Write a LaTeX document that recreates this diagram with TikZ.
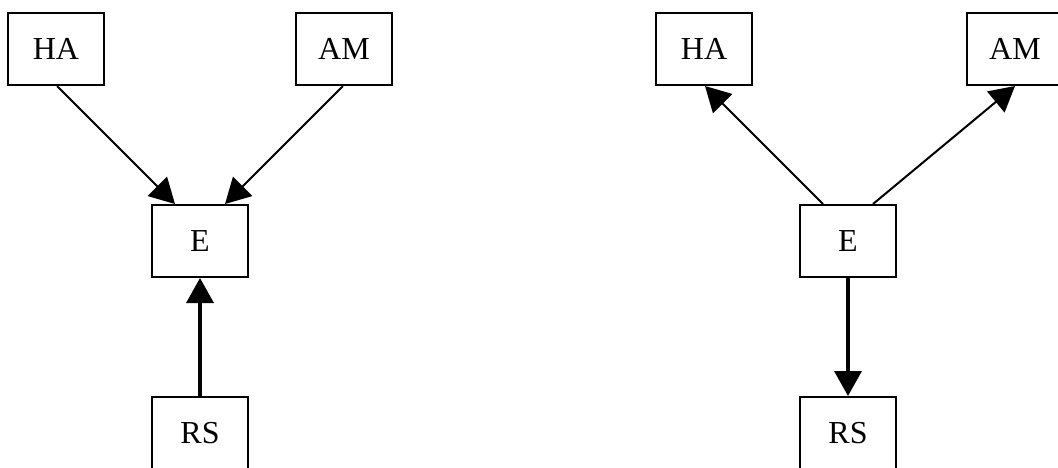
\documentclass[tikz,border=0pt]{standalone}
\usepackage{fontspec}
\setmainfont{Liberation Serif}
\usetikzlibrary{arrows.meta}
\begin{document}
\begin{tikzpicture}[x=1pt,y=-1pt,
  box/.style={draw,line width=2pt,minimum width=96pt,minimum height=72pt,inner sep=0pt,
    font=\fontsize{32}{38}\selectfont},
  diag/.style={line width=2pt,-{Triangle[length=25pt,width=27pt]}},
  vert/.style={line width=3.5pt,-{Triangle[length=25pt,width=27pt]}}]
\useasboundingbox (0,0) rectangle (1058,467);
\clip (0,0) rectangle (1058,467);
% left graph: HA and AM point into E, RS points up into E
\node[box] (haL) at (56,49) {HA};
\node[box] (amL) at (344,49) {AM};
\node[box] (eL) at (200,241) {E};
\node[box] (rsL) at (200,433) {RS};
\draw[diag] ([xshift=1pt]haL.south) -- ([xshift=-25pt]eL.north);
\draw[diag] ([xshift=-1pt]amL.south) -- ([xshift=25pt]eL.north);
\draw[vert] (rsL.north) -- (eL.south);
% right graph: E points out to HA, AM and RS
\node[box] (haR) at (704,49) {HA};
\node[box] (amR) at (1015,49) {AM};
\node[box] (eR) at (848,241) {E};
\node[box] (rsR) at (848,433) {RS};
\draw[diag] ([xshift=-25pt]eR.north) -- ([xshift=1pt]haR.south);
\draw[diag] ([xshift=25pt]eR.north) -- (amR.south);
\draw[vert] (eR.south) -- (rsR.north);
\end{tikzpicture}
\end{document}
